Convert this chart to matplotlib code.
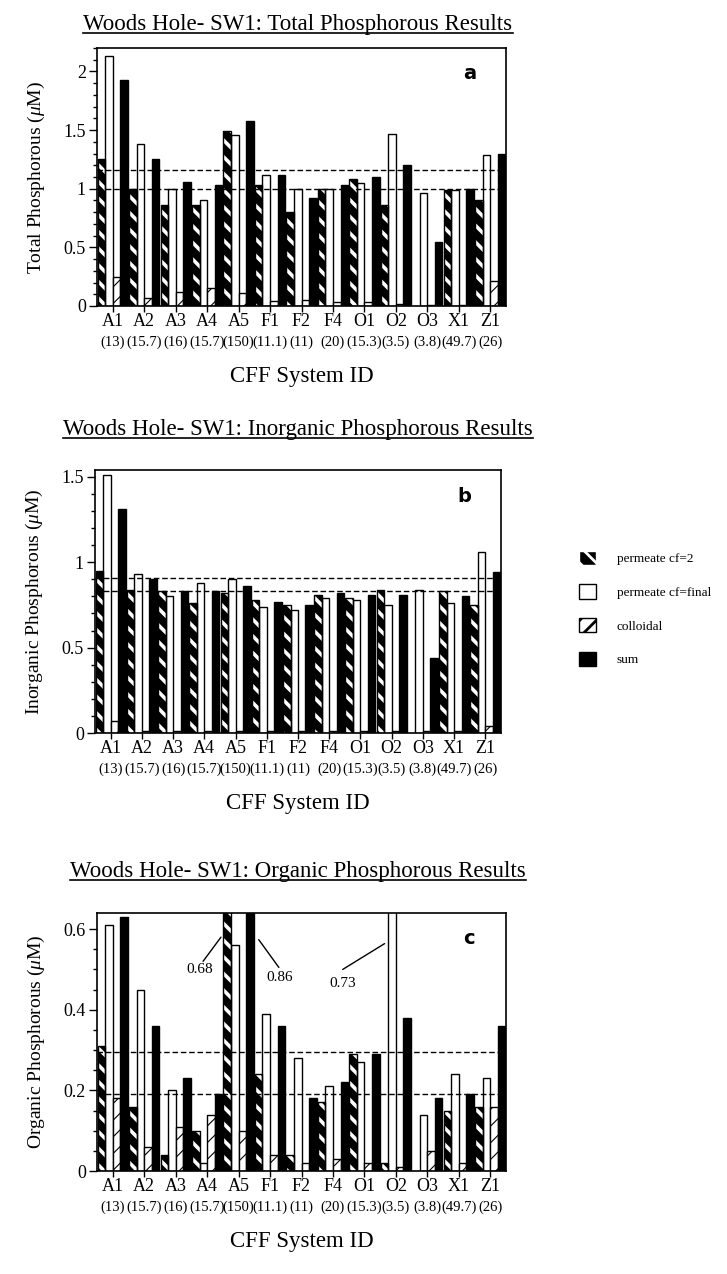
import numpy as np
import matplotlib
matplotlib.use('Agg')
import matplotlib.pyplot as plt
from matplotlib.patches import Patch

plt.rcParams['font.family'] = ['Liberation Serif', 'DejaVu Serif']
plt.rcParams['mathtext.fontset'] = 'custom'
plt.rcParams['mathtext.rm'] = 'Liberation Serif'
plt.rcParams['mathtext.it'] = 'Liberation Serif:italic'

# Data
systems = ['A1', 'A2', 'A3', 'A4', 'A5', 'F1', 'F2', 'F4', 'O1', 'O2', 'O3', 'X1', 'Z1']
sizes = ['(13)', '(15.7)', '(16)', '(15.7)', '(150)', '(11.1)', '(11)', '(20)', '(15.3)', '(3.5)', '(3.8)', '(49.7)', '(26)']
nan = np.nan

# a: total phosphorous
perm2_a = [1.25, 1.00, 0.86, 0.86, 1.49, 1.03, 0.80, 1.00, 1.08, 0.86, nan, 0.99, 0.90]
permf_a = [2.13, 1.38, 1.00, 0.90, 1.46, 1.12, 1.00, 1.00, 1.05, 1.47, 0.96, 0.99, 1.29]
coll_a = [0.25, 0.07, 0.12, 0.15, 0.11, 0.04, 0.05, 0.03, 0.03, 0.02, 0.01, 0.01, 0.21]
sum_a = [1.93, 1.25, 1.06, 1.03, 1.58, 1.12, 0.92, 1.03, 1.10, 1.20, 0.55, 1.00, 1.30]
ref_a = [1.16, 1.00]

# b: inorganic phosphorous
perm2_b = [0.95, 0.84, 0.83, 0.76, 0.82, 0.78, 0.75, 0.81, 0.79, 0.84, nan, 0.83, 0.75]
permf_b = [1.51, 0.93, 0.80, 0.88, 0.90, 0.74, 0.72, 0.79, 0.78, 0.75, 0.84, 0.76, 1.06]
coll_b = [0.07, 0.01, 0.01, 0.01, 0.01, 0.01, 0.01, 0.01, 0.01, 0.01, 0.01, 0.01, 0.04]
sum_b = [1.31, 0.90, 0.83, 0.83, 0.86, 0.77, 0.75, 0.82, 0.81, 0.81, 0.44, 0.80, 0.94]
ref_b = [0.905, 0.83]

# c: organic phosphorous
perm2_c = [0.31, 0.16, 0.04, 0.10, 0.68, 0.24, 0.04, 0.17, 0.29, 0.02, nan, 0.15, 0.16]
permf_c = [0.61, 0.45, 0.20, 0.02, 0.56, 0.39, 0.28, 0.21, 0.27, 0.73, 0.14, 0.24, 0.23]
coll_c = [0.18, 0.06, 0.11, 0.14, 0.10, 0.04, 0.02, 0.03, 0.02, 0.01, 0.05, 0.02, 0.16]
sum_c = [0.63, 0.36, 0.23, 0.19, 0.86, 0.36, 0.18, 0.22, 0.29, 0.38, 0.18, 0.19, 0.36]
ref_c = [0.295, 0.19]

W, H = 727, 1274
fig = plt.figure(figsize=(W / 100, H / 100), dpi=100)


def px_axes(left, right, top, bottom):
    return fig.add_axes([left / W, 1 - bottom / H, (right - left) / W, (bottom - top) / H])


def draw_panel(ax, p2, pf, co, su, refs, ylim, major, minor, ylabel, letter):
    x = np.arange(len(systems))
    w = 0.24
    # permeate cf=2 : black with white diagonal stripes
    with plt.rc_context({'hatch.linewidth': 2.6}):
        ax.bar(x - 1.5 * w, p2, w, color='black', edgecolor='white', hatch='\\\\', linewidth=0, zorder=2)
    ax.bar(x - 1.5 * w, p2, w, fill=False, edgecolor='black', linewidth=1.0, zorder=3)
    # permeate cf=final : open
    ax.bar(x - 0.5 * w, pf, w, color='white', edgecolor='black', linewidth=1.0, zorder=2)
    # colloidal : thin hatch
    with plt.rc_context({'hatch.linewidth': 0.8}):
        ax.bar(x + 0.5 * w, co, w, color='white', edgecolor='black', hatch='//', linewidth=1.0, zorder=2)
    # sum : solid black
    ax.bar(x + 1.5 * w, su, w, color='black', edgecolor='black', linewidth=1.0, zorder=2)

    for r in refs:
        ax.axhline(r, color='black', ls=(0, (4, 2)), lw=1.0, zorder=4)

    ax.set_xlim(-0.5, len(systems) - 0.5)
    ax.set_ylim(*ylim)
    ax.set_yticks(major)
    ax.set_yticks(minor, minor=True)
    ax.set_yticklabels([('%g' % v) for v in major], fontsize=13)
    ax.set_xticks(x)
    ax.set_xticklabels(systems, fontsize=13)
    ax.tick_params(axis='x', length=4, width=1, pad=1)
    ax.tick_params(axis='y', which='major', length=6, width=1, pad=2)
    ax.tick_params(axis='y', which='minor', length=3, width=1)
    for s in ax.spines.values():
        s.set_linewidth(1.2)
    ax.set_ylabel(ylabel, fontsize=14, labelpad=12)
    for i, s in enumerate(sizes):
        ax.annotate(s, xy=(i, 0), xycoords=('data', 'axes fraction'), xytext=(0, -26),
                    textcoords='offset points', ha='center', va='center', fontsize=10.5)
    ax.annotate('CFF System ID', xy=(0.5, 0), xycoords='axes fraction', xytext=(0, -51),
                textcoords='offset points', ha='center', va='center', fontsize=16.5)
    ax.text(0.91, 0.9, letter, transform=ax.transAxes, fontsize=14, fontweight='bold',
            family='DejaVu Sans', ha='center', va='center')


ax_a = px_axes(97, 506, 48, 306)
draw_panel(ax_a, perm2_a, permf_a, coll_a, sum_a, ref_a, (0, 2.2),
           [0, 0.5, 1, 1.5, 2], np.arange(0, 2.21, 0.1),
           r'Total Phosphorous ($\mu$M)', 'a')

ax_b = px_axes(95, 501, 470, 733)
draw_panel(ax_b, perm2_b, permf_b, coll_b, sum_b, ref_b, (0, 1.54),
           [0, 0.5, 1, 1.5], np.arange(0, 1.55, 0.1),
           r'Inorganic Phosphorous ($\mu$M)', 'b')

ax_c = px_axes(97, 506, 913, 1171)
draw_panel(ax_c, perm2_c, permf_c, coll_c, sum_c, ref_c, (0, 0.64),
           [0, 0.2, 0.4, 0.6], np.arange(0, 0.641, 0.05),
           r'Organic Phosphorous ($\mu$M)', 'c')

# off-scale values in panel c: leader line (start, end) and label position
offscale = [(perm2_c[4], (2.87, 0.52), (3.44, 0.58), (2.77, 0.50)),
            (sum_c[4], (5.28, 0.505), (4.64, 0.574), (5.31, 0.48)),
            (permf_c[9], (7.31, 0.50), (8.64, 0.564), (7.31, 0.465))]
for val, p0, p1, pt in offscale:
    ax_c.annotate('', xy=p1, xytext=p0,
                  arrowprops=dict(arrowstyle='-', lw=1.0, color='black', shrinkA=0, shrinkB=0))
    ax_c.text(pt[0], pt[1], '%.2f' % val, ha='center', va='center', fontsize=11)

# titles with underline
titles = [('Woods Hole- SW1: Total Phosphorous Results', 30),
          ('Woods Hole- SW1: Inorganic Phosphorous Results', 435),
          ('Woods Hole- SW1: Organic Phosphorous Results', 877)]
title_texts = []
for t, yb in titles:
    title_texts.append((fig.text(298 / W, 1 - yb / H, t, ha='center', va='baseline', fontsize=16.5), yb))

# legend on the right
handles = [Patch(facecolor='black', edgecolor='white', hatch='\\\\', label='permeate cf=2'),
           Patch(facecolor='white', edgecolor='black', label='permeate cf=final'),
           Patch(facecolor='white', edgecolor='black', hatch='//', label='colloidal'),
           Patch(facecolor='black', edgecolor='black', label='sum')]
with plt.rc_context({'hatch.linewidth': 2.0}):
    leg = fig.legend(handles=handles, loc='upper left', bbox_to_anchor=(572 / W, 1 - 544 / H),
                     frameon=False, fontsize=9.5, handlelength=1.3, handleheight=1.3,
                     labelspacing=1.45, handletextpad=1.6, borderpad=0)

fig.canvas.draw()
r = fig.canvas.get_renderer()
for txt, yb in title_texts:
    bb = txt.get_window_extent(r)
    y = 1 - (yb + 2.5) / H
    fig.add_artist(plt.Line2D([bb.x0 / W, bb.x1 / W], [y, y], color='black', lw=1.2,
                              transform=fig.transFigure))

fig.savefig('out.png', dpi=100)
